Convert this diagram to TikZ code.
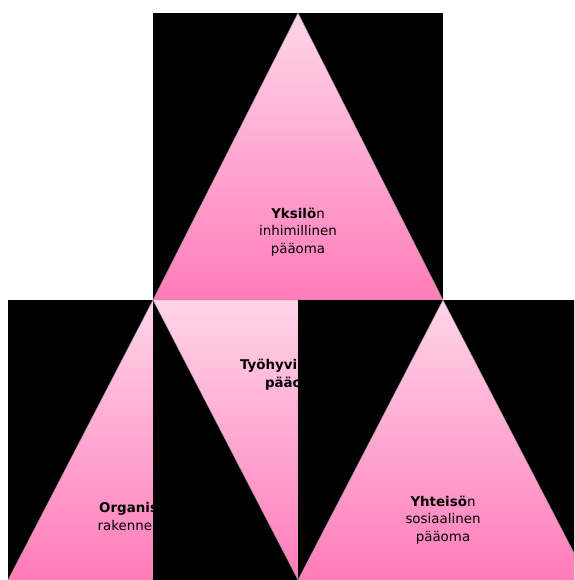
\documentclass[tikz,border=0pt]{standalone}
\usepackage{fontspec}
\setmainfont{DejaVu Sans}
\definecolor{pinklight}{RGB}{255,212,232}
\definecolor{pinkdark}{RGB}{255,124,186}
\tikzset{
  tri/.style={top color=pinklight,bottom color=pinkdark,draw=black!45,line width=0.4pt},
  lbl/.style={align=center,inner sep=0pt,text=black,font=\fontsize{13.4}{17.5}\selectfont}
}
% black panel with a shaded triangle: #1 left x, #2 top y, #3 height, #4 = 1 up / -1 down
\newcommand{\trianglepanel}[4]{%
  \fill[black] (#1,#2) rectangle ++(290,#3);%
  \ifnum#4=1
    \shade[tri] (#1+145,#2)--(#1,#2+#3)--(#1+290,#2+#3)--cycle;
  \else
    \shade[tri] (#1,#2)--(#1+290,#2)--(#1+145,#2+#3)--cycle;
  \fi
}

\begin{document}
\begin{tikzpicture}[x=1pt,y=-1pt]
  \useasboundingbox (0,0) rectangle (574,580);
  \clip (0,0) rectangle (574,580);
  % top
  \trianglepanel{153}{13}{287}{1}
  \node[lbl] (yksilo) at (298,232) {\textbf{Yksilö}n\\inhimillinen\\pääoma};
  % bottom row, left to right
  \trianglepanel{8}{300}{280}{1}
  \node[lbl] (organisaatio) at (152,518) {\textbf{Organisaatio}n\\rakennepääoma};
  \trianglepanel{153}{300}{280}{-1}
  \node[lbl] (tyohyvinvointi) at (295,374.5) {\textbf{Työhyvinvointi}\\\textbf{pääoma}};
  \trianglepanel{298}{300}{280}{1}
  \node[lbl] (yhteiso) at (443,520) {\textbf{Yhteisö}n\\sosiaalinen\\pääoma};
\end{tikzpicture}
\end{document}
